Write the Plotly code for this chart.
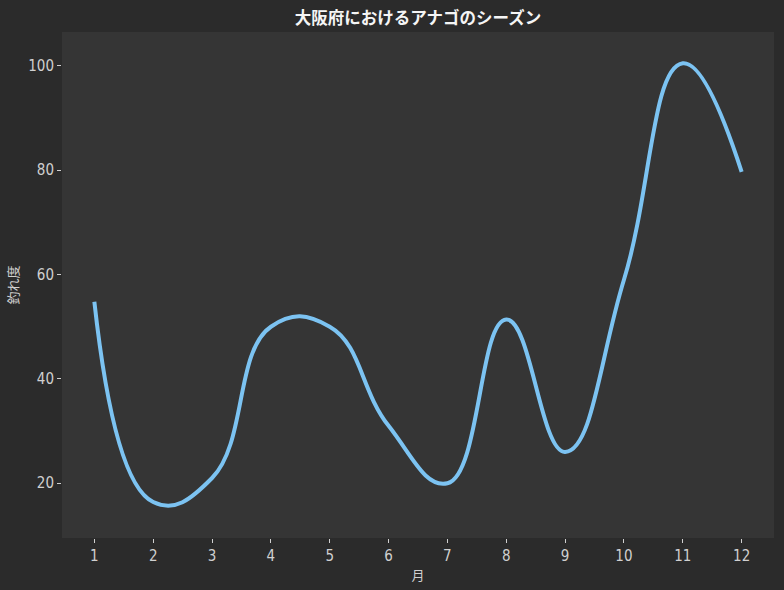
import plotly.graph_objects as go

# monthly catch index
months = [1, 2, 3, 4, 5, 6, 7, 8, 9, 10, 11, 12]
catch_index = [54.8, 16.4, 21.0, 50.0, 50.0, 31.0, 20.0, 51.4, 26.0, 59.0, 100.5, 79.7]
y_ticks = [20, 40, 60, 80, 100]

CJK = "Noto Sans CJK JP"
NUM = "Liberation Sans Narrow, DejaVu Sans Condensed, Noto Sans CJK JP"
FIG_BG = "#2b2b2b"
PLOT_BG = "#353535"
TEXT = "#d0d0d0"

fig = go.Figure()
fig.add_trace(
    go.Scatter(
        x=months,
        y=catch_index,
        mode="lines",
        line=dict(color="#7cc3f2", width=4, shape="spline", smoothing=1.3),
        showlegend=False,
        hoverinfo="skip",
    )
)

fig.update_layout(
    width=784,
    height=590,
    paper_bgcolor=FIG_BG,
    plot_bgcolor=PLOT_BG,
    font=dict(family=CJK, color=TEXT, size=13),
    title=dict(
        text="<b>大阪府におけるアナゴのシーズン</b>",
        xref="paper",
        x=0.5,
        xanchor="center",
        y=0.969,
        yanchor="middle",
        font=dict(size=16.5, color="#f5f5f5", family=CJK),
    ),
    margin=dict(l=62, r=10, t=32, b=52),
)

fig.update_xaxes(
    range=[0.45, 12.55],
    tickvals=months,
    showgrid=False,
    zeroline=False,
    showline=False,
    ticks="outside",
    ticklen=4,
    tickcolor=TEXT,
    tickfont=dict(size=15, color=TEXT, family=NUM),
    title=dict(text="月", font=dict(size=13, color=TEXT, family=CJK), standoff=6),
)
fig.update_yaxes(
    range=[9.5, 106.5],
    tickvals=y_ticks,
    showgrid=False,
    zeroline=False,
    showline=False,
    ticks="outside",
    ticklen=4,
    tickcolor=TEXT,
    tickfont=dict(size=15, color=TEXT, family=NUM),
    title=dict(text="釣れ度", font=dict(size=13, color=TEXT, family=CJK), standoff=6),
)

# drop the page margin so the figure sits at the window's top-left corner
fig.write_html(
    "out.html",
    config={"displayModeBar": False},
    post_script="document.body.style.margin='0';document.body.style.background='#2b2b2b';",
)
